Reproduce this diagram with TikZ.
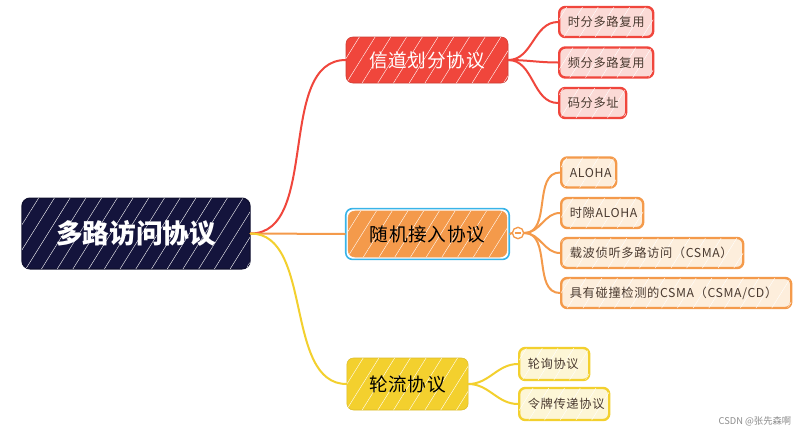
\documentclass[tikz,border=0pt]{standalone}
\usepackage{fontspec}
\newfontfamily\cjk{Noto Sans CJK SC}
\newfontfamily\cjktopic[LetterSpace=4]{Noto Sans CJK SC}
\newfontfamily\cjkleaf[LetterSpace=5]{Noto Sans CJK SC}
\usetikzlibrary{fit,patterns.meta}

\definecolor{rootblue}{HTML}{14143C}
\definecolor{chanred}{HTML}{F0463C}
\definecolor{chanleaf}{HTML}{FBDAD6}
\definecolor{randorange}{HTML}{F49A4B}
\definecolor{randleaf}{HTML}{FDEEDC}
\definecolor{turnyellow}{HTML}{F3D02E}
\definecolor{turnleaf}{HTML}{FDF6D6}
\definecolor{selblue}{HTML}{39B4E8}
\definecolor{leaftext}{HTML}{4A3A30}

\tikzset{
  hatch/.style={postaction={pattern={Lines[angle=58,distance=10pt,line width=0.3pt]},pattern color=white,fill opacity=#1}},
  topic/.style={rounded corners=5pt, inner sep=0pt, font=\cjktopic\fontsize{14}{16}\selectfont},
  leaf/.style={rounded corners=4.5pt, inner xsep=6.5pt, inner ysep=0pt, line width=1.8pt, minimum height=22.5pt,
    anchor=west, align=left, text=leaftext, font=\cjkleaf\fontsize{9.2}{11}\selectfont},
  branch/.style={line width=1.5pt, line cap=round},
}

\begin{document}
\begin{tikzpicture}[x=0.75pt,y=-0.75pt]
  \useasboundingbox[fill=white] (0,0) rectangle (800,436);

  % Root
  \node[rounded corners=6pt, fill=rootblue, draw=rootblue!80!black, line width=1pt, hatch=0.45,
        minimum width=171pt, minimum height=53pt, text=white,
        font=\cjk\bfseries\fontsize{20}{22}\selectfont] (root) at (136,233.5) {多路访问协议};

  % Topics
  \node[topic, fill=chanred, draw=chanred!85!black, hatch=0.4, text=white,
        minimum width=121.5pt, minimum height=34.5pt] (chan) at (427,60) {信道划分协议};
  \node[topic, fill=randorange, draw=randorange, hatch=0.4, text=black,
        minimum width=119pt, minimum height=34.5pt] (rand) at (427.5,234) {随机接入协议};
  \node[draw=selblue, line width=1.2pt, rounded corners=5pt, inner sep=1.6pt, fit=(rand)] (sel) {};
  \node[topic, fill=turnyellow, draw=turnyellow!90!black, hatch=0.4, text=black,
        minimum width=91pt, minimum height=39pt] (turn) at (407.5,384) {轮流协议};

  % Root to topics
  \draw[branch, chanred] (root.east) to[out=0,in=180,looseness=0.9] (chan.west);
  \draw[branch, randorange] (root.east) -- (sel.west);
  \draw[branch, turnyellow] (root.east) to[out=0,in=180,looseness=0.9] (turn.west);

  % Collapse button
  \node[circle, draw=randorange, fill=white, line width=1pt, minimum size=8.5pt, inner sep=0pt] (fold) at (518,233) {};
  \draw[randorange, line width=0.8pt] ([xshift=-2.5pt]fold.center) -- ([xshift=2.5pt]fold.center);
  \draw[branch, randorange] (sel.east) -- (fold.west);

  % Channel partitioning leaves
  \foreach \n/\y/\w/\t in {c1/22/94/时分多路复用, c2/62.5/94/频分多路复用, c3/103/67/码分多址} {
    \pgfmathsetmacro\tw{\w*0.75-13}
    \node[leaf, fill=chanleaf, draw=chanred, hatch=0.25, text width=\tw pt] (\n) at (558,\y) {\t};
    \draw[branch, chanred] (chan.east) to[out=0,in=180] (\n.west);
  }

  % Random access leaves
  \foreach \n/\y/\w/\t in {r1/172.5/55/ALOHA, r2/213/82/时隙ALOHA, r3/253/182/载波侦听多路访问（CSMA）,
                           r4/293/230/{具有碰撞检测的CSMA（CSMA/CD）}} {
    \pgfmathsetmacro\tw{\w*0.75-13}
    \node[leaf, fill=randleaf, draw=randorange, hatch=0.25, text width=\tw pt] (\n) at (560,\y) {\t};
    \draw[branch, randorange] (fold.east) to[out=0,in=180] (\n.west);
  }

  % Round robin leaves
  \foreach \n/\y/\w/\t in {t1/364/70/轮询协议, t2/404/90/令牌传递协议} {
    \pgfmathsetmacro\tw{\w*0.75-13}
    \node[leaf, fill=turnleaf, draw=turnyellow, hatch=0.25, minimum height=24pt, text width=\tw pt] (\n) at (518,\y) {\t};
    \draw[branch, turnyellow] (turn.east) to[out=0,in=180] (\n.west);
  }

  % Watermark
  \node[anchor=east, text=black!45, font=\cjk\fontsize{7}{8}\selectfont] (mark) at (796,421) {CSDN @张先森啊};
\end{tikzpicture}
\end{document}
